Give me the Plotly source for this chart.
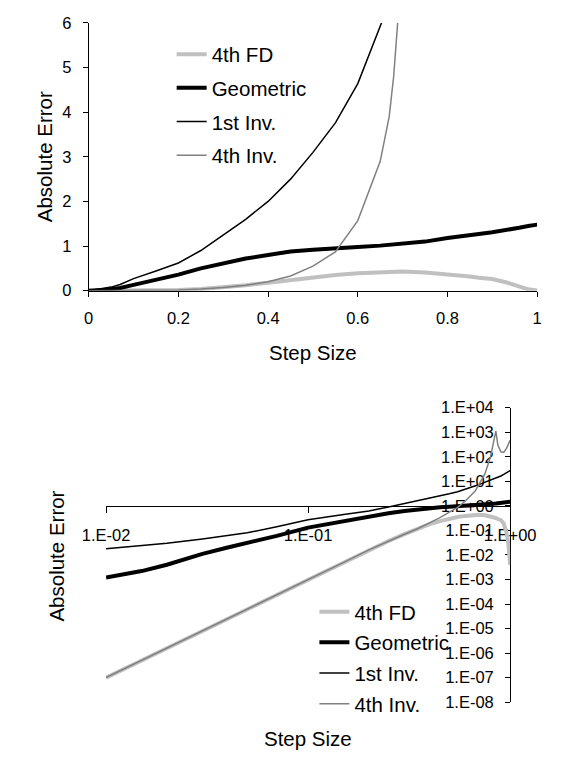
import plotly.graph_objects as go

# ---- data ----
step_size = [0.0, 0.01, 0.015, 0.02, 0.03, 0.04, 0.05, 0.07, 0.1, 0.15, 0.2, 0.25, 0.3, 0.35,
             0.4, 0.45, 0.5, 0.55, 0.6, 0.65, 0.67, 0.68, 0.7, 0.75, 0.8, 0.83, 0.85, 0.87,
             0.9, 0.93, 0.96, 0.98, 1.0]
fd4 = [0, 1e-7, 5e-7, 1.6e-6, 8e-6, 2.6e-5, 6.2e-5, 2.4e-4, 1e-3, 5e-3, 0.016, 0.037, 0.07,
       0.12, 0.18, 0.24, 0.30, 0.35, 0.39, 0.42, 0.43, 0.43, 0.43, 0.41, 0.37, 0.34, 0.32,
       0.29, 0.26, 0.19, 0.08, 0.03, 0.004]
geometric = [0, 0.0012, 0.0022, 0.004, 0.011, 0.02, 0.03, 0.06, 0.13, 0.24, 0.36, 0.5, 0.62,
             0.72, 0.8, 0.88, 0.92, 0.96, 0.98, 1.01, 1.03, 1.04, 1.06, 1.1, 1.18, 1.21, 1.24,
             1.27, 1.31, 1.35, 1.41, 1.45, 1.48]
inv1 = [0, 0.018, 0.024, 0.03, 0.045, 0.062, 0.08, 0.14, 0.27, 0.44, 0.62, 0.9, 1.24, 1.6,
        2.0, 2.5, 3.1, 3.76, 4.64, 5.9, 6.4, 6.7, 7.3, 9.0, 11.0, 12.5, 13.5, 14.7, 16.5,
        19.0, 22.5, 25.0, 27.5]
inv4 = [0, 1e-7, 5e-7, 1.6e-6, 8e-6, 2.6e-5, 6.2e-5, 2.4e-4, 1e-3, 5e-3, 0.016, 0.037, 0.07,
        0.12, 0.2, 0.33, 0.55, 0.87, 1.57, 2.9, 3.9, 4.8, 7.5, 20, 100, 400, 1100, 300, 160,
        150, 220, 320, 470]

series_names = ["4th FD", "Geometric", "1st Inv.", "4th Inv."]
series_values = [fd4, geometric, inv1, inv4]
series_colors = ["#c0c0c0", "#000000", "#000000", "#808080"]
series_widths = [4, 4, 1.5, 1.5]

lin_xticks = [0, 0.2, 0.4, 0.6, 0.8, 1.0]
lin_xtext = ["0", "0.2", "0.4", "0.6", "0.8", "1"]
log_xticks = [0.01, 0.1, 1.0]
log_xtext = ["1.E-02", "1.E-01", "1.E+00"]
log_yexp = list(range(-8, 5))
log_ytext = ["1.E%+03d" % e if e < 0 else "1.E+%02d" % e for e in log_yexp]
log_ytext = [("1.E-%02d" % -e) if e < 0 else ("1.E+%02d" % e) for e in log_yexp]

FONT = "Liberation Sans, Arial, sans-serif"
W, H = 565, 762

fig = go.Figure()

# top (linear) chart
for i, (name, vals) in enumerate(zip(series_names, series_values)):
    fig.add_trace(go.Scatter(
        x=step_size, y=vals, mode="lines", name=name,
        line=dict(color=series_colors[i], width=series_widths[i]),
        xaxis="x", yaxis="y", legend="legend", legendgroup="t%d" % i,
    ))

# bottom (log-log) chart
for i, (name, vals) in enumerate(zip(series_names, series_values)):
    xs = [x for x, v in zip(step_size, vals) if x > 0 and v > 0]
    ys = [v for x, v in zip(step_size, vals) if x > 0 and v > 0]
    fig.add_trace(go.Scatter(
        x=xs, y=ys, mode="lines", name=name,
        line=dict(color=series_colors[i], width=series_widths[i]),
        xaxis="x2", yaxis="y2", legend="legend2", legendgroup="b%d" % i,
    ))

tickfont = dict(family=FONT, size=16.5, color="black")

# bottom y domain (paper)
y2_lo = 1 - 710 / H
y2_hi = 1 - 408.3 / H
y_of_one = y2_lo + (0 - (-8)) / 12 * (y2_hi - y2_lo)

fig.update_layout(
    width=W, height=H,
    margin=dict(l=0, r=0, t=0, b=0),
    paper_bgcolor="white", plot_bgcolor="white",
    showlegend=True,
    xaxis=dict(domain=[71 / W, 563 / W], range=[0, 1], tickvals=lin_xticks, ticktext=lin_xtext,
               showgrid=False, zeroline=False, showline=True, linecolor="black", linewidth=1,
               ticks="outside", ticklen=5, tickcolor="black", tickfont=tickfont,
               ticklabelstandoff=8, anchor="y"),
    yaxis=dict(domain=[1 - 288.5 / H, 1 - 14.3 / H], range=[0, 6], dtick=1,
               showgrid=False, zeroline=False, showline=True, linecolor="black", linewidth=1,
               ticks="outside", ticklen=5, tickcolor="black", tickfont=tickfont,
               ticklabelstandoff=8, anchor="x"),
    xaxis2=dict(domain=[90 / W, 533.3 / W], type="log", range=[-2, 0],
                tickvals=log_xticks, ticktext=log_xtext,
                showgrid=False, zeroline=False, showline=True, linecolor="black", linewidth=1,
                ticks="outside", ticklen=6, tickcolor="black", tickfont=tickfont,
                ticklabelstandoff=8, anchor="free", position=y_of_one, layer="below traces"),
    yaxis2=dict(domain=[y2_lo, y2_hi], type="log", range=[-8, 4],
                tickvals=[10.0 ** e for e in log_yexp], ticktext=log_ytext,
                showgrid=False, zeroline=False, showline=True, linecolor="black", linewidth=1,
                ticks="outside", ticklen=5, tickcolor="black", tickfont=tickfont,
                ticklabelstandoff=8, anchor="free", position=533.3 / W, side="left",
                layer="below traces"),
    legend=dict(x=162 / W, y=1 - 26 / H, xanchor="left", yanchor="top",
                bgcolor="rgba(0,0,0,0)", font=dict(family=FONT, size=20.5, color="black"),
                tracegroupgap=4, itemclick=False),
    legend2=dict(x=318.6 / W, y=1 - 597 / H, xanchor="left", yanchor="top",
                 bgcolor="rgba(0,0,0,0)", font=dict(family=FONT, size=20.5, color="black"),
                 tracegroupgap=1, itemclick=False),
)

title_font = dict(family=FONT, size=20.5, color="black")
annots = [
    dict(text="Absolute Error", x=23.4 / W, y=1 - 151.5 / H, textangle=-90),
    dict(text="Step Size", x=317 / W, y=1 - 351.7 / H, textangle=0),
    dict(text="Absolute Error", x=36 / W, y=1 - 560 / H, textangle=-90),
    dict(text="Step Size", x=311.7 / W, y=1 - 746.7 / H, textangle=0),
]
for a in annots:
    fig.add_annotation(text=a["text"], x=a["x"], y=a["y"], xref="paper", yref="paper",
                       xanchor="center", yanchor="middle", showarrow=False,
                       textangle=a["textangle"], font=title_font)

fig.write_html("out.html")
